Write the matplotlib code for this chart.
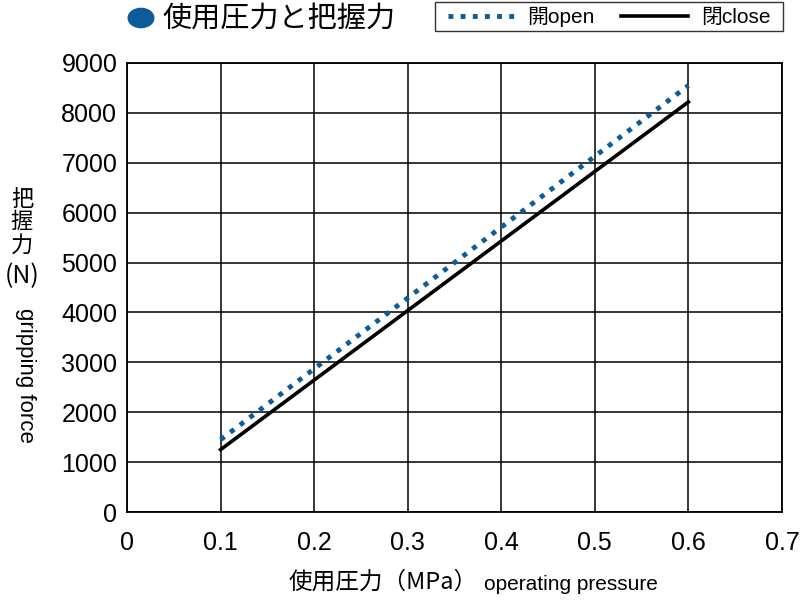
import numpy as np
import matplotlib
matplotlib.use('Agg')
import matplotlib.pyplot as plt
from matplotlib.patches import Circle, Rectangle

plt.rcParams['font.family'] = ['Liberation Sans', 'Noto Sans CJK JP', 'DejaVu Sans']

# data
pressure = [0.1, 0.6]
force_open = [1450, 8550]
force_close = [1250, 8220]
x_ticks = [0, 0.1, 0.2, 0.3, 0.4, 0.5, 0.6, 0.7]
y_ticks = [0, 1000, 2000, 3000, 4000, 5000, 6000, 7000, 8000, 9000]
x_tick_labels = ['0', '0.1', '0.2', '0.3', '0.4', '0.5', '0.6', '0.7']

BLUE = '#0b5c99'
JP = ['Noto Sans CJK JP', 'DejaVu Sans']

fig = plt.figure(figsize=(8, 6), dpi=100)
ax = fig.add_axes([127 / 800, 1 - 512 / 600, (782 - 127) / 800, (512 - 63) / 600])

ax.plot(pressure, force_open, color=BLUE, lw=3.5, linestyle=(0, (1, 1.5)), label='開open', zorder=3)
ax.plot(pressure, force_close, color='black', lw=2.6, label='閉close', zorder=3)

ax.set_xlim(0, 0.7)
ax.set_ylim(0, 9000)
ax.set_xticks(x_ticks)
ax.set_xticklabels(x_tick_labels, family=['Liberation Sans Narrow', 'Liberation Sans'], fontsize=18)
ax.set_yticks(y_ticks)
ax.set_yticklabels([str(v) for v in y_ticks], fontsize=18)
ax.tick_params(length=0, pad=7)
ax.tick_params(axis='x', pad=14)
ax.grid(True, color='black', lw=1.1)
for s in ax.spines.values():
    s.set_linewidth(1.3)

# title with blue dot
fig.patches.append(Circle((141 / 800, 1 - 18 / 600), 0.016, transform=fig.transFigure,
                          color=BLUE, zorder=5))
fig.text(162 / 800, 1 - 19 / 600, '使用圧力と把握力', family=JP, fontsize=21, va='center', ha='left')

# legend, frame drawn separately so it can be sized like the original
fig.patches.append(Rectangle((435 / 800, 1 - 31 / 600), 348 / 800, 29 / 600, transform=fig.transFigure,
                             facecolor='white', edgecolor='#333333', lw=1.0, zorder=4))
leg = fig.legend(loc='center', bbox_to_anchor=(609 / 800, 1 - 17 / 600), ncol=2, frameon=False,
                 handlelength=3.2, columnspacing=1.3, borderpad=0, borderaxespad=0,
                 handletextpad=0.6,
                 prop={'family': ['Liberation Sans', 'Noto Sans CJK JP'], 'size': 15})
leg.set_zorder(6)

# y label
fig.text(22 / 800, 1 - 222 / 600, '把\n握\n力', family=JP, fontsize=16, ha='center', va='center',
         linespacing=1.0)
fig.text(22 / 800, 1 - 276 / 600, '(N)', family=JP, fontsize=18, ha='center', va='center')
fig.text(25 / 800, 1 - 375 / 600, 'gripping force', fontsize=16, rotation=-90, ha='center', va='center')

# x label
fig.text(478 / 800, 1 - 582 / 600, '使用圧力（MPa）', family=JP, fontsize=17, ha='right', va='center')
fig.text(484 / 800, 1 - 584 / 600, 'operating pressure', fontsize=15, ha='left', va='center')

fig.savefig('out.png', dpi=100)
